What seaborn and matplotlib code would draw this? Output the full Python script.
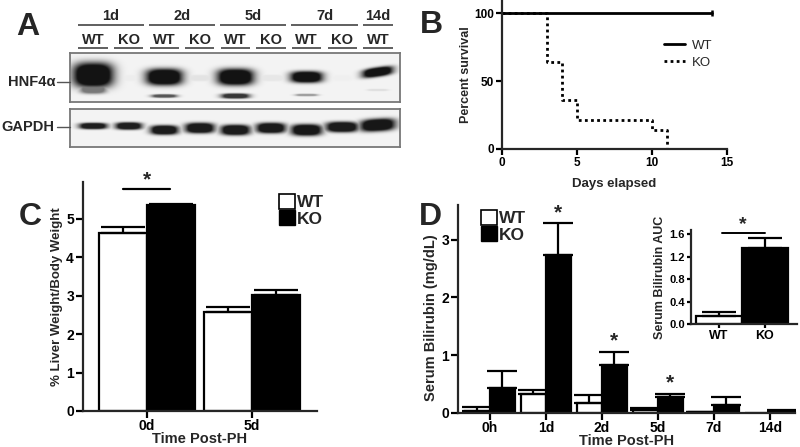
import numpy as np
import pandas as pd
import matplotlib
matplotlib.use('Agg')
import matplotlib.pyplot as plt
import seaborn as sns
from matplotlib.patches import Patch
from matplotlib.lines import Line2D

# ---------------- data ----------------
# Panel A (western blot)
blot_groups = ['1d', '2d', '5d', '7d', '14d']
blot_lanes = ['WT', 'KO', 'WT', 'KO', 'WT', 'KO', 'WT', 'KO', 'WT']
lane_group = [0, 0, 1, 1, 2, 2, 3, 3, 4]
hnf_main_int = [1.0, 0.03, 1.0, 0.07, 1.0, 0.06, 1.0, 0.02, 1.0]
hnf_main_hw = [0.55, 0.35, 0.50, 0.40, 0.50, 0.40, 0.44, 0.30, 0.42]
hnf_main_y = [22, 25, 24, 25, 24, 25, 24, 25, 19]
hnf_main_hh = [12, 3, 8, 3, 8, 3, 5.5, 3, 4.5]
hnf_main_tilt = [0, 0, 0, 0, 0, 0, 0, 0, -5]
hnf_low_int = [0.55, 0, 0.7, 0, 0.85, 0, 0.4, 0, 0.1]
hnf_low_y = [36, 0, 43, 0, 43, 0, 42, 0, 37]
hnf_low_hh = [4.5, 1, 1.6, 1, 2.4, 1, 1.1, 1, 1]
hnf_low_hw = [0.36, 0.3, 0.34, 0.3, 0.38, 0.3, 0.30, 0.3, 0.28]
gapdh_int = [0.95, 0.95, 0.97, 0.97, 0.97, 0.97, 0.98, 0.97, 0.98]
gapdh_y = [17, 17, 21, 19, 21, 19, 21, 18, 16]
gapdh_hh = [3, 3.5, 4.5, 5, 5, 5, 5.5, 5, 6]
gapdh_hw = [0.38, 0.36, 0.38, 0.40, 0.40, 0.40, 0.42, 0.44, 0.48]
gapdh_tilt = [0, 0, 0, 0, 0, 0, 0, 0, -2]

# Panel B (survival)
ko_days = [0, 3, 4, 5, 10, 11]
ko_surv = [100, 64, 36, 21, 14, 0]
wt_days = [0, 14]
wt_surv = [100, 100]

# Panel C
c_times = ['0d', '5d']
c_wt = [4.62, 2.58]
c_wt_err = [0.18, 0.13]
c_ko = [5.37, 3.03]
c_ko_err = [0.03, 0.12]

# Panel D
d_times = ['0h', '1d', '2d', '5d', '7d', '14d']
d_wt = [0.04, 0.33, 0.17, 0.05, 0.01, 0.005]
d_wt_err = [0.06, 0.06, 0.15, 0.04, 0.01, 0.0]
d_ko = [0.44, 2.73, 0.83, 0.27, 0.13, 0.03]
d_ko_err = [0.28, 0.55, 0.23, 0.06, 0.15, 0.02]
d_sig = ['1d', '2d', '5d']

# Inset
auc_groups = ['WT', 'KO']
auc_vals = [0.15, 1.35]
auc_err = [0.06, 0.18]

# ---------------- style ----------------
sns.set_style('ticks')
plt.rcParams['font.family'] = ['Liberation Sans', 'DejaVu Sans']
plt.rcParams['font.weight'] = 'bold'
plt.rcParams['axes.labelweight'] = 'bold'
plt.rcParams['axes.linewidth'] = 1.6

W, H = 800, 447
fig = plt.figure(figsize=(8, 4.47), dpi=100)


def px_axes(l, t, r, b):
    return fig.add_axes([l / W, 1 - b / H, (r - l) / W, (b - t) / H])


def fx(x):
    return x / W


def fy(y):
    return 1 - y / H


def style(ax, fs, length=4):
    sns.despine(ax=ax)
    for s in ['left', 'bottom']:
        ax.spines[s].set_linewidth(1.6)
    ax.tick_params(width=1.6, length=length, labelsize=fs, pad=1.5, colors='black')


pal = {'WT': 'white', 'KO': 'black'}

# ---------------- Panel A ----------------
XL, XR = -0.646, 8.62


def blot(n_rows, lanes, ys, hws, hhs, amps, tilts):
    xs = np.linspace(XL, XR, 660)
    yy = np.arange(n_rows * 2) / 2 + 0.25
    X, Y = np.meshgrid(xs, yy)
    dark = np.zeros_like(X)
    for lane, yc, hw, hh, amp, tilt in zip(lanes, ys, hws, hhs, amps, tilts):
        if amp <= 0:
            continue
        yce = yc + tilt * (X - lane)
        d = (np.abs(X - lane) / hw) ** 3 + (np.abs(Y - yce) / hh) ** 3
        dark = np.maximum(dark, amp * np.clip(1.7 * np.exp(-d), 0, 1))
    return dark


lanes = list(range(len(blot_lanes)))
bg = 0.955
axH = px_axes(70, 53, 400, 102)
dH = np.maximum(blot(49, lanes, hnf_main_y, hnf_main_hw, hnf_main_hh, hnf_main_int, hnf_main_tilt),
                blot(49, lanes, hnf_low_y, hnf_low_hw, hnf_low_hh, hnf_low_int, [0] * 9))
axH.imshow(bg - (bg - 0.08) * dH, cmap='gray', vmin=0, vmax=1, extent=(XL, XR, 49, 0),
           aspect='auto', interpolation='bilinear')
axG = px_axes(70, 109, 400, 147)
dG = blot(38, lanes, gapdh_y, gapdh_hw, gapdh_hh, gapdh_int, gapdh_tilt)
axG.imshow(bg - (bg - 0.08) * dG, cmap='gray', vmin=0, vmax=1, extent=(XL, XR, 38, 0),
           aspect='auto', interpolation='bilinear')
for ax in (axH, axG):
    ax.set_xticks([])
    ax.set_yticks([])
    for s in ax.spines.values():
        s.set_visible(True)
        s.set_color('#777777')
        s.set_linewidth(1.3)

axT = px_axes(70, 0, 400, 53)
axT.set_xlim(XL, XR)
axT.set_ylim(53, 0)
axT.axis('off')
for gi, g in enumerate(blot_groups):
    ls = [i for i in lanes if lane_group[i] == gi]
    c = (min(ls) + max(ls)) / 2
    axT.text(c, 16, g, ha='center', va='center', fontsize=10.5, fontweight='bold')
    axT.plot([min(ls) - 0.43, max(ls) + 0.43], [25, 25], color='#444444', lw=1.2, solid_capstyle='butt')
for i, lab in enumerate(blot_lanes):
    axT.text(i, 40, lab, ha='center', va='center', fontsize=10.5, fontweight='bold')
    axT.plot([i - 0.41, i + 0.41], [48, 48], color='#444444', lw=1.2, solid_capstyle='butt')

fig.text(fx(55), fy(82), 'HNF4α', ha='right', va='center', fontsize=10.5, fontweight='bold')
fig.text(fx(54), fy(127), 'GAPDH', ha='right', va='center', fontsize=10.5, fontweight='bold')
fig.add_artist(Line2D([fx(57), fx(70)], [fy(82), fy(82)], color='#555555', lw=1))
fig.add_artist(Line2D([fx(57), fx(70)], [fy(127), fy(127)], color='#555555', lw=1))

# ---------------- Panel B ----------------
axB = px_axes(502, 0, 727, 149)
dfB = pd.concat([
    pd.DataFrame({'day': wt_days, 'surv': wt_surv, 'g': 'WT'}),
    pd.DataFrame({'day': ko_days, 'surv': ko_surv, 'g': 'KO'}),
])
sns.lineplot(data=dfB[dfB.g == 'WT'], x='day', y='surv', color='black', lw=2,
             drawstyle='steps-post', estimator=None, ax=axB)
sns.lineplot(data=dfB[dfB.g == 'KO'], x='day', y='surv', color='black', lw=2,
             linestyle=(0, (1, 1.2)), drawstyle='steps-post', estimator=None, ax=axB)
axB.plot([wt_days[-1]], [wt_surv[-1]], marker='|', ms=5, mew=1.8, color='black')
axB.set_xlim(0, 15)
axB.set_ylim(0, 109.6)
axB.set_xticks([0, 5, 10, 15])
axB.set_yticks([0, 50, 100])
style(axB, 8.5)
axB.set_xlabel('Days elapsed', fontsize=9.5, labelpad=7)
axB.set_ylabel('Percent survival', fontsize=9, labelpad=2)
hB = [Line2D([], [], color='black', lw=2), Line2D([], [], color='black', lw=2, linestyle=(0, (1, 1.2)))]
axB.legend(hB, ['WT', 'KO'], loc='center left', bbox_to_anchor=(fx(664), fy(54)),
           bbox_transform=fig.transFigure, frameon=False, handlelength=1.6,
           handletextpad=0.5, labelspacing=0.35, borderpad=0, borderaxespad=0,
           prop={'size': 9.5, 'weight': 'normal'})

# ---------------- Panel C ----------------
axC = px_axes(83, 182, 317, 411)
dfC = pd.DataFrame({'time': c_times * 2, 'geno': ['WT'] * 2 + ['KO'] * 2, 'val': c_wt + c_ko})
sns.barplot(data=dfC, x='time', y='val', hue='geno', order=c_times, hue_order=['WT', 'KO'],
            palette=pal, edgecolor='black', linewidth=1.6, width=0.914, errorbar=None,
            legend=False, saturation=1, ax=axC)


def add_err(ax, vals_list, errs_list, capsize):
    for cont, vals, errs in zip(ax.containers, vals_list, errs_list):
        xs = [b.get_x() + b.get_width() / 2 for b in cont]
        keep = [i for i, e in enumerate(errs) if e > 0]
        ax.errorbar([xs[i] for i in keep], [vals[i] for i in keep],
                    yerr=[np.zeros(len(keep)), [errs[i] for i in keep]], fmt='none',
                    ecolor='black', elinewidth=1.6, capsize=capsize, capthick=1.6, zorder=1)


add_err(axC, [c_wt, c_ko], [c_wt_err, c_ko_err], 16)
axC.set_xlim(-0.61, 1.62)
axC.set_ylim(0, 5.96)
axC.set_yticks([0, 1, 2, 3, 4, 5])
style(axC, 10, length=5)
axC.tick_params(axis='x', pad=1)
axC.set_xlabel('Time Post-PH', fontsize=10.5, labelpad=-1)
axC.set_ylabel('% Liver Weight/Body Weight', fontsize=9.5, labelpad=2)
axC.plot([-0.23, 0.22], [5.78, 5.78], color='black', lw=1.6)
axC.text(0, 5.78, '*', ha='center', va='bottom', fontsize=15, fontweight='bold')
hC = [Patch(facecolor='white', edgecolor='black', lw=1.2), Patch(facecolor='black', edgecolor='black')]
axC.legend(hC, ['WT', 'KO'], loc='upper left', bbox_to_anchor=(fx(279), fy(194)),
           bbox_transform=fig.transFigure, frameon=False, handlelength=0.95, handleheight=0.95,
           handletextpad=0.1, labelspacing=0.0, borderpad=0, borderaxespad=0,
           prop={'size': 12.5, 'weight': 'bold'})

# ---------------- Panel D ----------------
axD = px_axes(458, 205, 795, 413)
dfD = pd.DataFrame({'time': d_times * 2, 'geno': ['WT'] * 6 + ['KO'] * 6, 'val': d_wt + d_ko})
sns.barplot(data=dfD, x='time', y='val', hue='geno', order=d_times, hue_order=['WT', 'KO'],
            palette=pal, edgecolor='black', linewidth=1.6, width=0.89, errorbar=None,
            legend=False, saturation=1, ax=axD)
add_err(axD, [d_wt, d_ko], [d_wt_err, d_ko_err], 11)
ko_bars = axD.containers[1]
for t, b, v, e in zip(d_times, ko_bars, d_ko, d_ko_err):
    if t in d_sig:
        axD.annotate('*', xy=(b.get_x() + b.get_width() / 2, v + e), xytext=(0, 1),
                     textcoords='offset points', ha='center', va='bottom', fontsize=15,
                     fontweight='bold')
axD.set_xlim(-0.57, 5.45)
axD.set_ylim(0, 3.6)
axD.set_yticks([0, 1, 2, 3])
style(axD, 10, length=5)
axD.tick_params(axis='x', pad=1)
axD.set_xlabel('Time Post-PH', fontsize=10.5, labelpad=-1)
axD.set_ylabel('Serum Bilirubin (mg/dL)', fontsize=10.5)
axD.yaxis.set_label_coords(-0.058, 0.457)
axD.legend(hC, ['WT', 'KO'], loc='upper left', bbox_to_anchor=(fx(481), fy(210)),
           bbox_transform=fig.transFigure, frameon=False, handlelength=0.95, handleheight=0.95,
           handletextpad=0.1, labelspacing=0.0, borderpad=0, borderaxespad=0,
           prop={'size': 12.5, 'weight': 'bold'})

# ---------------- Inset ----------------
axI = px_axes(691, 230, 797, 324)
dfI = pd.DataFrame({'g': auc_groups, 'val': auc_vals})
sns.barplot(data=dfI, x='g', y='val', hue='g', order=auc_groups, hue_order=auc_groups,
            palette=pal, edgecolor='black', linewidth=1.6, width=1.0, errorbar=None,
            legend=False, saturation=1, ax=axI)
xsI = [c[0].get_x() + c[0].get_width() / 2 for c in axI.containers]
axI.errorbar(xsI, auc_vals, yerr=[np.zeros(2), auc_err], fmt='none', ecolor='black',
             elinewidth=1.6, capsize=12, capthick=1.6, zorder=1)
axI.set_xlim(-0.61, 1.7)
axI.set_ylim(0, 1.68)
axI.set_yticks([0, 0.4, 0.8, 1.2, 1.6])
axI.set_yticklabels(['0.0', '0.4', '0.8', '1.2', '1.6'])
style(axI, 8, length=3)
axI.set_xlabel('')
axI.set_ylabel('Serum Bilirubin AUC', fontsize=9, labelpad=2)
axI.tick_params(axis='x', labelsize=9)
axI.plot([0.07, 1.0], [1.62, 1.62], color='black', lw=1.4)
axI.text(0.52, 1.62, '*', ha='center', va='bottom', fontsize=14, fontweight='bold')

# ---------------- panel letters ----------------
for x, y, L in [(16, 35, 'A'), (420, 33, 'B'), (19, 225, 'C'), (419, 225, 'D')]:
    fig.text(fx(x), fy(y), L, fontsize=23, fontweight='bold', va='baseline', ha='left')

fig.savefig('out.png', dpi=100)
